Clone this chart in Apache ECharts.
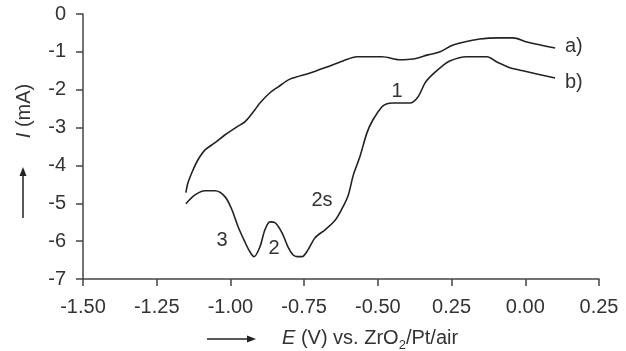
<!DOCTYPE html>
<html>
<head>
<meta charset="utf-8">
<script src="https://cdn.jsdelivr.net/npm/echarts@6/dist/echarts.min.js"></script>
<style>html,body{margin:0;padding:0;background:#fff;}#c{width:626px;height:351px;}</style>
</head>
<body>
<div id="c"></div>
<script>
// Tick labels as printed in the figure
var xTickLabels = ["-1.50", "-1.25", "-1.00", "-0.75", "-0.50", "0.25", "0.00", "0.25"];
var yTickLabels = ["0", "-1", "-2", "-3", "-4", "-5", "-6", "-7"];

// Curve a) : E (V), I (mA)
var curveA_E = [-1.151, -1.144, -1.127, -1.110, -1.086, -1.052, -1.018, -0.978, -0.951, -0.917, -0.900, -0.866, -0.839, -0.798, -0.730, -0.673, -0.618, -0.571, -0.486, -0.425, -0.381, -0.330, -0.289, -0.245, -0.154, -0.086, -0.042, 0.006, 0.101];
var curveA_I = [-4.72, -4.46, -4.12, -3.85, -3.59, -3.40, -3.19, -2.98, -2.85, -2.53, -2.35, -2.08, -1.93, -1.72, -1.56, -1.40, -1.24, -1.13, -1.13, -1.21, -1.19, -1.08, -1.00, -0.82, -0.66, -0.63, -0.63, -0.74, -0.90];

// Curve b)
var curveB_E = [-1.151, -1.120, -1.086, -1.052, -1.018, -0.995, -0.974, -0.951, -0.934, -0.920, -0.900, -0.883, -0.866, -0.849, -0.825, -0.805, -0.788, -0.774, -0.757, -0.737, -0.713, -0.679, -0.645, -0.622, -0.601, -0.583, -0.561, -0.537, -0.517, -0.486, -0.469, -0.449, -0.391, -0.364, -0.340, -0.323, -0.289, -0.256, -0.198, -0.130, -0.096, -0.052, -0.008, 0.101];
var curveB_I = [-5.01, -4.78, -4.67, -4.67, -4.83, -5.17, -5.62, -6.02, -6.28, -6.41, -6.15, -5.70, -5.49, -5.51, -5.78, -6.15, -6.36, -6.41, -6.41, -6.23, -5.91, -5.70, -5.45, -5.15, -4.80, -4.25, -3.77, -3.14, -2.80, -2.45, -2.37, -2.35, -2.35, -2.19, -1.82, -1.66, -1.42, -1.24, -1.13, -1.13, -1.27, -1.42, -1.50, -1.69];

function zip(xs, ys) { return xs.map(function (x, i) { return [x, ys[i]]; }); }

var font = 'Liberation Sans, Arial, Helvetica, sans-serif';
var txt = '#333';
var chart = echarts.init(document.getElementById('c'), null, { renderer: 'canvas' });

chart.setOption({
  animation: false,
  backgroundColor: '#fff',
  grid: { left: 83, right: 27, top: 14, bottom: 72, containLabel: false },
  xAxis: {
    type: 'value', min: -1.5, max: 0.25, interval: 0.25,
    axisLine: { onZero: false, lineStyle: { color: '#444', width: 1.5 } },
    axisTick: { show: true, inside: false, length: 7, lineStyle: { color: '#444', width: 1.5 } },
    splitLine: { show: false },
    axisLabel: {
      margin: 18, color: txt, fontFamily: font, fontSize: 20,
      formatter: function (v) { return xTickLabels[Math.round((v + 1.5) / 0.25)]; }
    }
  },
  yAxis: {
    type: 'value', min: -7, max: 0, interval: 1,
    axisLine: { onZero: false, lineStyle: { color: '#444', width: 1.5 } },
    axisTick: { show: true, inside: false, length: 7, lineStyle: { color: '#444', width: 1.5 } },
    splitLine: { show: false },
    axisLabel: {
      margin: 17, color: txt, fontFamily: font, fontSize: 20,
      formatter: function (v) { return yTickLabels[Math.round(-v)]; }
    }
  },
  series: [
    { type: 'line', data: zip(curveA_E, curveA_I), showSymbol: false, smooth: 0.3,
      lineStyle: { color: '#222', width: 1.6 } },
    { type: 'line', data: zip(curveB_E, curveB_I), showSymbol: false, smooth: 0.3,
      lineStyle: { color: '#222', width: 1.6 } }
  ],
  graphic: [
    // y axis title
    { type: 'text', x: 24, y: 111, rotation: Math.PI / 2,
      style: { text: '{i|I} (mA)', fill: txt, font: '20px ' + font, align: 'center', verticalAlign: 'middle',
        rich: { i: { fontStyle: 'italic', fontSize: 20, fontFamily: font, fill: txt } } } },
    // y arrow
    { type: 'line', shape: { x1: 23, y1: 218, x2: 23, y2: 174 }, style: { stroke: '#222', lineWidth: 1.5 } },
    { type: 'polygon', shape: { points: [[23, 167], [19.5, 176], [26.5, 176]] }, style: { fill: '#222' } },
    // x arrow
    { type: 'line', shape: { x1: 207, y1: 339, x2: 249, y2: 339 }, style: { stroke: '#222', lineWidth: 1.5 } },
    { type: 'polygon', shape: { points: [[256, 339], [247, 335.5], [247, 342.5]] }, style: { fill: '#222' } },
    // x axis title
    { type: 'text', x: 282, y: 338,
      style: { text: '{i|E} (V) vs. ZrO{s|2}/Pt/air', fill: txt, font: '20px ' + font, align: 'left', verticalAlign: 'middle',
        rich: {
          i: { fontStyle: 'italic', fontSize: 20, fontFamily: font, fill: txt, lineHeight: 28 },
          s: { fontSize: 13, fontFamily: font, fill: txt, verticalAlign: 'bottom', lineHeight: 28 }
        } } },
    // annotations
    { type: 'text', x: 397, y: 91, style: { text: '1', fill: txt, font: '20px ' + font, align: 'center', verticalAlign: 'middle' } },
    { type: 'text', x: 322, y: 200, style: { text: '2s', fill: txt, font: '20px ' + font, align: 'center', verticalAlign: 'middle' } },
    { type: 'text', x: 222, y: 240, style: { text: '3', fill: txt, font: '20px ' + font, align: 'center', verticalAlign: 'middle' } },
    { type: 'text', x: 274, y: 248, style: { text: '2', fill: txt, font: '20px ' + font, align: 'center', verticalAlign: 'middle' } },
    { type: 'text', x: 565, y: 46, style: { text: 'a)', fill: txt, font: '20px ' + font, align: 'left', verticalAlign: 'middle' } },
    { type: 'text', x: 565, y: 82, style: { text: 'b)', fill: txt, font: '20px ' + font, align: 'left', verticalAlign: 'middle' } }
  ]
});
</script>
</body>
</html>
